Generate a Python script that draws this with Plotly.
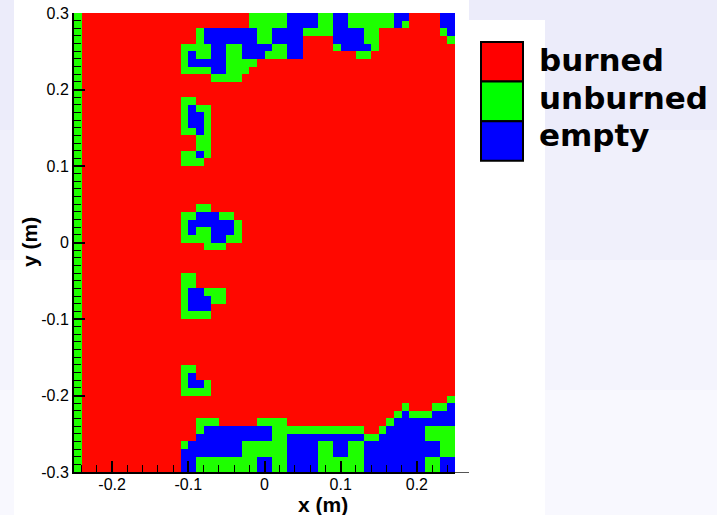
import numpy as np
import plotly.graph_objects as go

# ---------------- data ----------------
categories = ["burned", "unburned", "empty"]
category_letters = ["R", "G", "B"]
x_ticks = [-0.2, -0.1, 0.0, 0.1, 0.2]
x_tick_labels = ["-0.2", "-0.1", "0", "0.1", "0.2"]
y_ticks = [0.3, 0.2, 0.1, 0.0, -0.1, -0.2, -0.3]
y_tick_labels = ["0.3", "0.2", "0.1", "0", "-0.1", "-0.2", "-0.3"]
x_range = [-0.25, 0.25]
y_range = [-0.3, 0.3]
n_cols = 50
n_rows = 60

# cell states, one run-length coded row per 0.01 m, from the top row (y=0.3) down
grid_rows = [
    "G1 R22 G5 B4 G2 B2 G6 B2 R4 B2",
    "G1 R22 G5 B4 G2 B2 G6 B1 G1 R4 B2",
    "G1 R15 G1 B7 G2 B4 G4 B4 G2 R8 G1 B1",
    "G1 R15 G1 B7 G2 B4 R4 B4 G2 R9 G1",
    "G1 R13 G4 B2 G2 B4 G2 B2 R4 G1 B4 G1 R10",
    "G1 R13 G1 B1 G2 B2 G2 B3 G3 B2 R7 G2 R11",
    "G1 R13 G1 B5 G4 R26",
    "G1 R13 G4 B2 G3 R27",
    "G1 R17 G4 R28",
    "G1 R49",
    "G1 R49",
    "G1 R13 G2 R34",
    "G1 R13 G1 B1 G2 R32",
    "G1 R13 G1 B2 G1 R32",
    "G1 R13 G1 B2 G1 R32",
    "G1 R13 G2 B1 G1 R32",
    "G1 R15 G2 R32",
    "G1 R15 G2 R32",
    "G1 R13 G2 B1 G1 R32",
    "G1 R13 G3 R33",
    "G1 R49",
    "G1 R49",
    "G1 R49",
    "G1 R49",
    "G1 R49",
    "G1 R15 G2 R32",
    "G1 R13 G2 B3 G2 R29",
    "G1 R13 G1 B6 G1 R28",
    "G1 R13 G1 B1 G2 B3 G1 R28",
    "G1 R13 G4 B2 G2 R28",
    "G1 R16 G3 R30",
    "G1 R49",
    "G1 R49",
    "G1 R49",
    "G1 R13 G2 R34",
    "G1 R13 G2 R34",
    "G1 R13 G1 B2 G3 R30",
    "G1 R13 G1 B3 G2 R30",
    "G1 R13 G1 B3 R32",
    "G1 R13 G4 R32",
    "G1 R49",
    "G1 R49",
    "G1 R49",
    "G1 R49",
    "G1 R49",
    "G1 R49",
    "G1 R13 G2 R34",
    "G1 R13 G1 B1 R34",
    "G1 R13 G1 B2 G1 R32",
    "G1 R13 G4 R32",
    "G1 R48 G1",
    "G1 R42 G1 R3 G2 B1",
    "G1 R41 G1 B1 G3 B3",
    "G1 R15 G3 R5 G4 R13 G1 B8",
    "G1 R15 G1 B9 G12 R2 G1 B5 G4",
    "G1 R15 B10 G2 B10 G2 B6 G4",
    "G1 R13 G1 B7 G6 B4 G2 B2 G2 B10 G2",
    "G1 R13 B8 G6 B4 G2 B2 G2 B10 G2",
    "G1 R13 B2 G8 B2 G2 B4 G6 B8 G2 B2",
    "G1 R13 B2 G8 B2 G2 B4 G6 B8 G2 B2",
]

# ---------------- decode ----------------
def decode(row):
    out = []
    for tok in row.split():
        out += [category_letters.index(tok[0])] * int(tok[1:])
    assert len(out) == n_cols, (row, len(out))
    return out

z_top_down = [decode(r) for r in grid_rows]
assert len(z_top_down) == n_rows
z = np.array(z_top_down[::-1])  # bottom row first
x_edges = np.linspace(x_range[0], x_range[1], n_cols + 1)
y_edges = np.linspace(y_range[0], y_range[1], n_rows + 1)

RED, GREEN, BLUE = "#ff0800", "#1eff00", "#0000ff"
colorscale = [[0, RED], [1 / 3, RED], [1 / 3, GREEN], [2 / 3, GREEN], [2 / 3, BLUE], [1, BLUE]]

fig = go.Figure(go.Heatmap(
    z=z, x=x_edges, y=y_edges, zmin=-0.5, zmax=2.5,
    colorscale=colorscale, showscale=False, hoverinfo="skip",
))

# ---------------- layout (pixel geometry) ----------------
W, H = 717, 515
L, R, T, B = 74, 455, 13, 472

def px(x):
    return (x - L) / (R - L)

def py(y):
    return (B - y) / (B - T)

font = "Liberation Sans, Arial, Helvetica, sans-serif"
legend_font = "DejaVu Sans, Verdana, sans-serif"
shapes = []
# background: lavender paper (soft vertical fade) with white panels
bands = [(0, 130, "#ececfa"), (130, 260, "#f0f0fb"), (260, 390, "#f4f4fd"), (390, 515, "#f8f8fe")]
for y0, y1, c in bands:
    shapes.append(dict(type="rect", xref="paper", yref="paper", x0=px(0), x1=px(717), y0=py(y1), y1=py(y0),
                       fillcolor=c, line_width=0, layer="below"))
shapes.append(dict(type="rect", xref="paper", yref="paper", x0=px(14), x1=px(469), y0=py(515), y1=py(0),
                   fillcolor="white", line_width=0, layer="below"))
shapes.append(dict(type="rect", xref="paper", yref="paper", x0=px(469), x1=px(545), y0=py(515), y1=py(20),
                   fillcolor="white", line_width=0, layer="below"))
# short extension of the bottom axis line
shapes.append(dict(type="line", xref="paper", yref="paper", x0=px(455), x1=px(469), y0=py(472.5), y1=py(472.5),
                   line=dict(color="#555555", width=1)))

# legend boxes
legend_colors = ["#ff0000", "#00ff00", "#0000ff"]
lx0, lx1 = 481, 523
ly0, lh = 42, 39.6
text_mid = [60.0, 98.0, 135.0]
annotations = []
for k, (name, col) in enumerate(zip(categories, legend_colors)):
    shapes.append(dict(type="rect", xref="paper", yref="paper",
                       x0=px(lx0), x1=px(lx1), y0=py(ly0 + (k + 1) * lh), y1=py(ly0 + k * lh),
                       fillcolor=col, line=dict(color="black", width=2)))
    annotations.append(dict(xref="paper", yref="paper", x=px(537), y=py(text_mid[k]),
                            text=name, showarrow=False, xanchor="left", yanchor="middle",
                            font=dict(family=legend_font, size=31, color="black", weight="bold")))

# axis titles
annotations.append(dict(xref="paper", yref="paper", x=px(323), y=py(504), text="x (m)", showarrow=False,
                        xanchor="center", yanchor="middle",
                        font=dict(family=font, size=21, color="black", weight="bold")))
annotations.append(dict(xref="paper", yref="paper", x=px(29), y=py(242), text="y (m)", showarrow=False,
                        textangle=-90, xanchor="center", yanchor="middle",
                        font=dict(family=font, size=21, color="black", weight="bold")))

axis_common = dict(showgrid=False, zeroline=False, showline=True, linecolor="black", linewidth=2,
                   ticks="inside", ticklen=11, tickwidth=2, tickcolor="black", automargin=False,
                   tickfont=dict(family=font, size=16, color="black"), layer="above traces")

fig.update_layout(
    width=W, height=H,
    margin=dict(l=L, r=W - R, t=T, b=H - B, pad=0),
    paper_bgcolor="#f0f0fb", plot_bgcolor="white",
    xaxis=dict(range=x_range, tickvals=x_ticks, ticktext=x_tick_labels, ticklabelstandoff=-3,
               minor=dict(ticks="inside", dtick=0.02, tick0=0, ticklen=7, tickwidth=1, tickcolor="black"),
               **axis_common),
    yaxis=dict(range=y_range, tickvals=y_ticks, ticktext=y_tick_labels,
               minor=dict(ticks="inside", dtick=0.01, tick0=0, ticklen=7, tickwidth=1, tickcolor="black"),
               **axis_common),
    shapes=shapes, annotations=annotations, showlegend=False,
)

fig.write_html("out.html")
